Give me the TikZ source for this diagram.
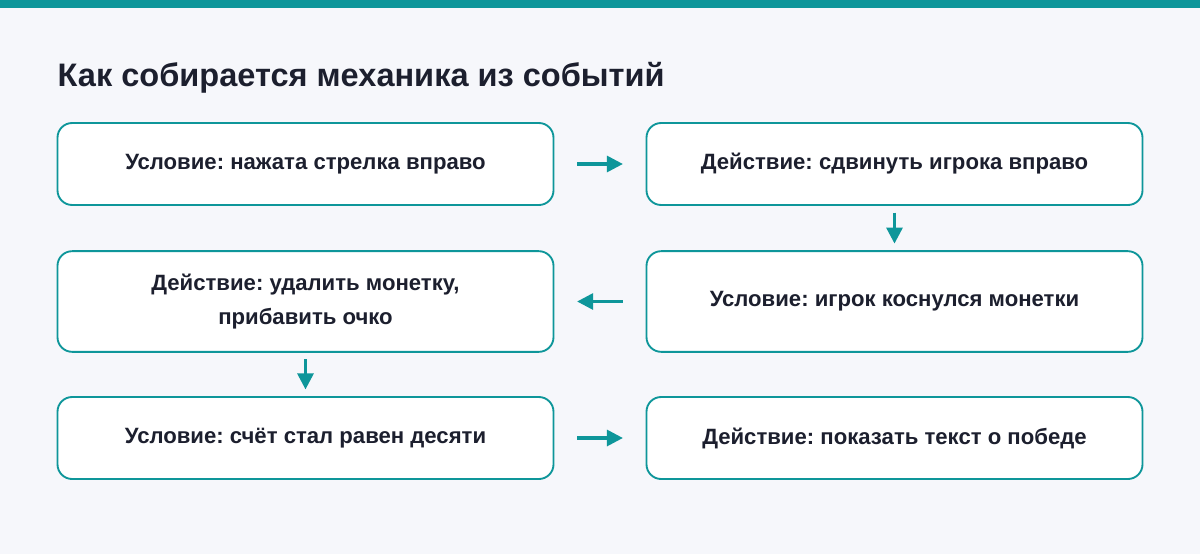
\documentclass[tikz,border=0pt]{standalone}
\usepackage{fontspec}
\setmainfont{Liberation Sans}
\usetikzlibrary{arrows.meta}
\definecolor{teal1}{HTML}{0E969A}
\definecolor{bgc}{HTML}{F6F7FB}
\definecolor{ink}{HTML}{1C1F2E}
\frenchspacing
\tikzset{
    every node/.style={align=center,text=ink,font=\bfseries\fontsize{16.6}{25}\selectfont},
    event/.style={draw=teal1,line width=1.4pt,rounded corners=11pt,fill=white,minimum width=372pt,inner sep=0pt},
    flow/.style={draw=teal1,line width=2.3pt,-{Triangle[length=12pt,width=12pt]}},
}
\begin{document}
\begin{tikzpicture}[x=0.75pt,y=-0.75pt]
                \fill[bgc] (0,0) rectangle (1200,554);
                \useasboundingbox (0,0) rectangle (1200,554);
                \fill[teal1] (0,0) rectangle (1200,8);
                \node[anchor=west,font=\bfseries\fontsize{24.4}{30}\selectfont] (title) at (53,78) {Как собирается механика из событий};

                \node[event,minimum height=61.5pt] (press) at (305.5,164) {Условие: нажата стрелка вправо};
                \node[event,minimum height=61.5pt] (move) at (894.5,164) {Действие: сдвинуть игрока вправо};
                \node[event,minimum height=75.5pt] (touch) at (894.5,301.5) {Условие: игрок коснулся монетки};
                \node[event,minimum height=75.5pt] (coin) at (305.5,301.5) {Действие: удалить монетку,\\прибавить очко};
                \node[event,minimum height=61.5pt] (score) at (305.5,438) {Условие: счёт стал равен десяти};
                \node[event,minimum height=61.5pt] (win) at (894.5,438) {Действие: показать текст о победе};

                \draw[flow,shorten <=17pt,shorten >=17pt] (press) -- (move);
                \draw[flow,shorten <=5pt,shorten >=5pt] (move) -- (touch);
                \draw[flow,shorten <=17pt,shorten >=17pt] (touch) -- (coin);
                \draw[flow,shorten <=5pt,shorten >=5pt] (coin) -- (score);
                \draw[flow,shorten <=17pt,shorten >=17pt] (score) -- (win);
\end{tikzpicture}
\end{document}
